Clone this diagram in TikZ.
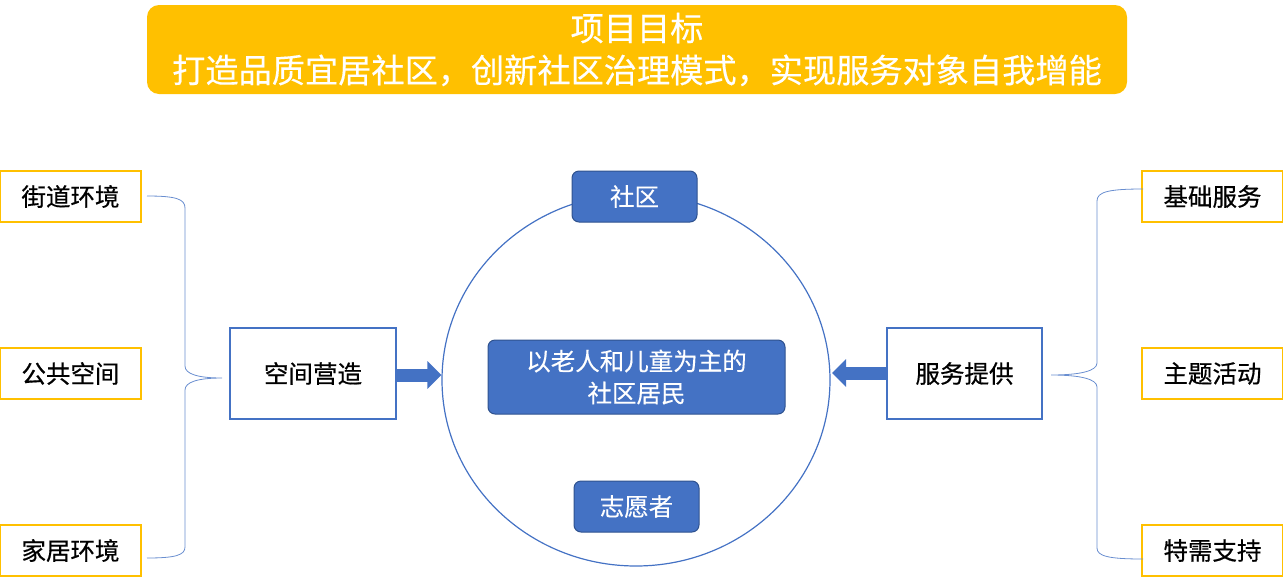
\documentclass[tikz,border=0pt]{standalone}
\usepackage{fontspec}
\setmainfont{Noto Sans CJK SC}
\newfontfamily\heavyfont[FakeBold=0.6]{Noto Sans CJK SC}
\newfontfamily\semifont[FakeBold=0.3]{Noto Sans CJK SC}
\usetikzlibrary{shapes.geometric,arrows.meta}
\definecolor{myblue}{HTML}{4472C4}
\definecolor{darkblue}{HTML}{2F528F}
\definecolor{myorange}{HTML}{FFC000}
\tikzset{
  leaf/.style={draw=myorange, line width=1.2pt, fill=white, minimum width=141pt, minimum height=51pt, inner sep=0pt, font=\heavyfont\fontsize{24.5}{28}\selectfont},
  mid/.style={draw=myblue, line width=1.2pt, fill=white, minimum height=91pt, inner sep=0pt, font=\heavyfont\fontsize{24.5}{28}\selectfont},
  pill/.style={draw=darkblue, line width=1pt, fill=myblue, rounded corners=7pt, text=white, inner sep=0pt, font=\semifont\fontsize{24.5}{32}\selectfont, align=center},
  brace/.style={draw=myblue!80, line width=0.8pt},
  bigarrow/.style={myblue, line width=13pt, -{Triangle[length=14pt,width=27pt]}}
}
\begin{document}
\begin{tikzpicture}[x=1pt,y=-1pt]
\useasboundingbox (0,0) rectangle (1283,582);
% banner
\node[fill=myorange, rounded corners=12pt, minimum width=980pt, minimum height=89pt, inner sep=0pt, text=white, align=center, font=\semifont\fontsize{33.2}{42}\selectfont] (banner) at (637,49.5) {项目目标\\打造品质宜居社区，创新社区治理模式，实现服务对象自我增能};
% circle
\node[draw=myblue, line width=1.2pt, ellipse, minimum width=388pt, minimum height=372pt, inner sep=0pt] (circ) at (636,380) {};
\node[pill, minimum width=125pt, minimum height=51pt] (sq) at (634.5,196.5) {社区};
\node[pill, minimum width=125pt, minimum height=51pt] (vol) at (636.5,506.5) {志愿者};
\node[pill, minimum width=297pt, minimum height=74pt] (res) at (636.5,377) {以老人和儿童为主的\\社区居民};
% middle boxes
\node[mid, minimum width=166pt] (kj) at (313,373.5) {空间营造};
\node[mid, minimum width=155pt] (fw) at (964.5,373.5) {服务提供};
% leaves
\node[leaf] (l1) at (70.5,196.5) {街道环境};
\node[leaf] (l2) at (70.5,373.5) {公共空间};
\node[leaf] (l3) at (70.5,550.5) {家居环境};
\node[leaf] (r1) at (1212.5,196.5) {基础服务};
\node[leaf] (r2) at (1212.5,373.5) {主题活动};
\node[leaf] (r3) at (1212.5,550.5) {特需支持};
% arrows
\draw[bigarrow] (kj.east |- 0,375) -- (circ.west |- 0,375);
\draw[bigarrow] (fw.west |- 0,373) -- (832,373);
% left brace
\coordinate (lbt) at (147,196);
\coordinate (lbb) at (147,558);
\coordinate (lbm) at (222,378);
\draw[brace] (lbt) .. controls (176,196) and (185,199) .. (185,208) -- (185,366)
  .. controls (185,374) and (198,378) .. (lbm)
  .. controls (198,378) and (185,382) .. (185,390) -- (185,547)
  .. controls (185,555) and (176,558) .. (lbb);
% right brace
\coordinate (rbt) at (1143,189);
\coordinate (rbb) at (1143,559);
\coordinate (rbm) at (1051,375);
\draw[brace] (rbt) .. controls (1108,189) and (1097,192) .. (1097,201) -- (1097,363)
  .. controls (1097,371) and (1080,375) .. (rbm)
  .. controls (1080,375) and (1097,379) .. (1097,387) -- (1097,548)
  .. controls (1097,556) and (1108,559) .. (rbb);
\end{tikzpicture}
\end{document}
